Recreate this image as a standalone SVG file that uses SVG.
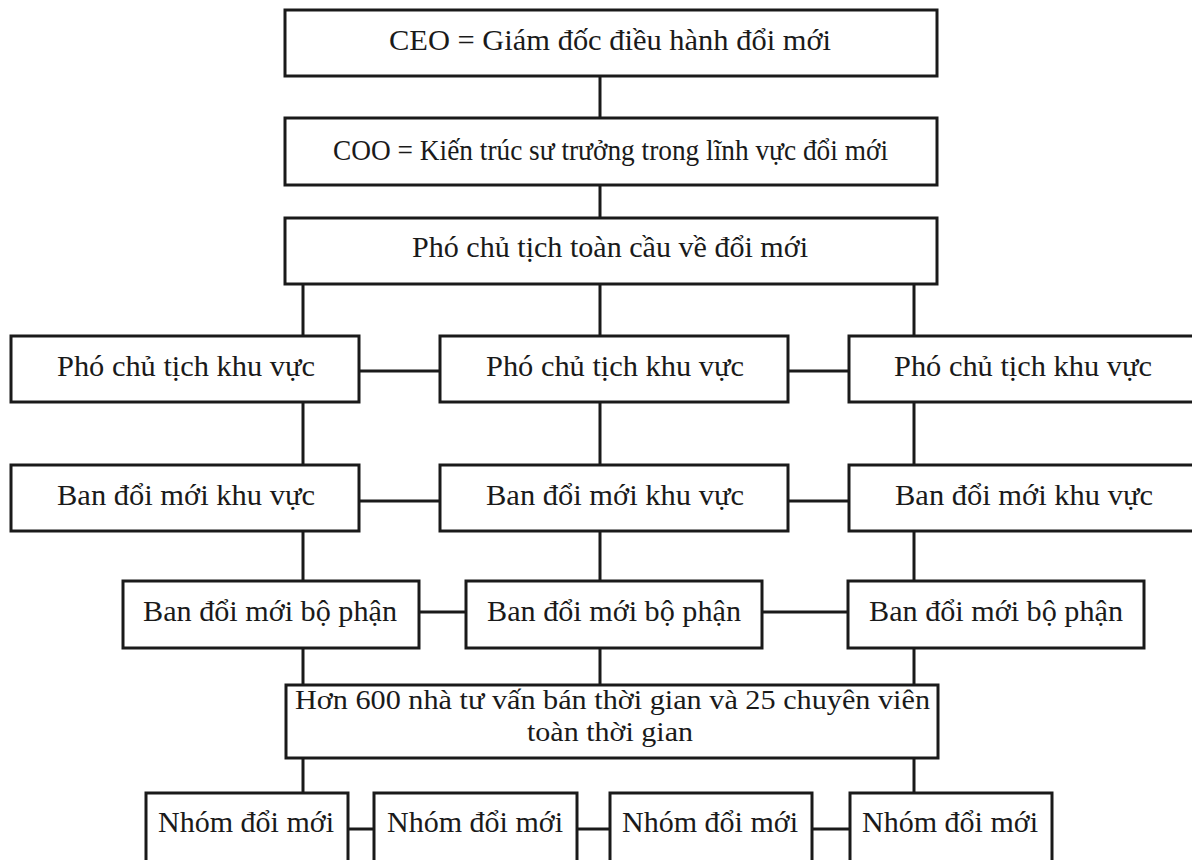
<svg xmlns="http://www.w3.org/2000/svg" width="1192" height="860" viewBox="0 0 1192 860">
<style>
.box{fill:#fff;stroke:#1a1a1a;stroke-width:3}
.ln{stroke:#1a1a1a;stroke-width:3;fill:none}
text{font-family:"Liberation Serif","Times New Roman",serif;font-size:30px;fill:#1a1a1a;text-anchor:middle}
.two{font-size:28px}
</style>
<rect width="1192" height="860" fill="#fff"/>
<g id="connectors">
<path class="ln" d="M600 76V118M600 185V218M303 284V336M600 284V336M914 284V336"/>
<path class="ln" d="M359 371H440M788 371H849"/>
<path class="ln" d="M303 402V465M600 402V465M914 402V465"/>
<path class="ln" d="M359 501H440M788 501H849"/>
<path class="ln" d="M303 531V581M600 531V581M914 531V581"/>
<path class="ln" d="M419 612H466M762 612H848"/>
<path class="ln" d="M303 648V685M600 648V685M914 648V685"/>
<path class="ln" d="M303 758V793M914 758V793"/>
<path class="ln" d="M348 829H374M577 829H610M812 829H850"/>
</g>
<g id="ceo"><rect class="box" x="285" y="10" width="652" height="66"/><text x="610" y="50" textLength="442" lengthAdjust="spacingAndGlyphs">CEO = Giám đốc điều hành đổi mới</text></g>
<g id="coo"><rect class="box" x="285" y="118" width="652" height="67"/><text x="610.5" y="160" textLength="555" lengthAdjust="spacingAndGlyphs">COO = Kiến trúc sư trưởng trong lĩnh vực đổi mới</text></g>
<g id="vp-global"><rect class="box" x="285" y="218" width="652" height="66"/><text x="610" y="257" textLength="396" lengthAdjust="spacingAndGlyphs">Phó chủ tịch toàn cầu về đổi mới</text></g>
<g id="vp-region-1"><rect class="box" x="11" y="336" width="348" height="66"/><text x="186" y="376" textLength="258" lengthAdjust="spacingAndGlyphs">Phó chủ tịch khu vực</text></g>
<g id="vp-region-2"><rect class="box" x="440" y="336" width="348" height="66"/><text x="615" y="376" textLength="258" lengthAdjust="spacingAndGlyphs">Phó chủ tịch khu vực</text></g>
<g id="vp-region-3"><rect class="box" x="849" y="336" width="348" height="66"/><text x="1023" y="376" textLength="258" lengthAdjust="spacingAndGlyphs">Phó chủ tịch khu vực</text></g>
<g id="board-region-1"><rect class="box" x="11" y="465" width="348" height="66"/><text x="186" y="505" textLength="258" lengthAdjust="spacingAndGlyphs">Ban đổi mới khu vực</text></g>
<g id="board-region-2"><rect class="box" x="440" y="465" width="348" height="66"/><text x="615" y="505" textLength="258" lengthAdjust="spacingAndGlyphs">Ban đổi mới khu vực</text></g>
<g id="board-region-3"><rect class="box" x="849" y="465" width="348" height="66"/><text x="1024" y="505" textLength="258" lengthAdjust="spacingAndGlyphs">Ban đổi mới khu vực</text></g>
<g id="board-div-1"><rect class="box" x="123" y="581" width="296" height="67"/><text x="270" y="621" textLength="254" lengthAdjust="spacingAndGlyphs">Ban đổi mới bộ phận</text></g>
<g id="board-div-2"><rect class="box" x="466" y="581" width="296" height="67"/><text x="614" y="621" textLength="254" lengthAdjust="spacingAndGlyphs">Ban đổi mới bộ phận</text></g>
<g id="board-div-3"><rect class="box" x="848" y="581" width="296" height="67"/><text x="996" y="621" textLength="254" lengthAdjust="spacingAndGlyphs">Ban đổi mới bộ phận</text></g>
<g id="consultants"><rect class="box" x="286" y="685" width="652" height="73"/><text class="two" x="612.5" y="709" textLength="635" lengthAdjust="spacingAndGlyphs">Hơn 600 nhà tư vấn bán thời gian và 25 chuyên viên</text><text class="two" x="610" y="741" textLength="166" lengthAdjust="spacingAndGlyphs">toàn thời gian</text></g>
<g id="team-1"><rect class="box" x="146" y="793" width="202" height="70"/><text x="246" y="832" textLength="176" lengthAdjust="spacingAndGlyphs">Nhóm đổi mới</text></g>
<g id="team-2"><rect class="box" x="374" y="793" width="203" height="70"/><text x="475" y="832" textLength="176" lengthAdjust="spacingAndGlyphs">Nhóm đổi mới</text></g>
<g id="team-3"><rect class="box" x="610" y="793" width="202" height="70"/><text x="710" y="832" textLength="176" lengthAdjust="spacingAndGlyphs">Nhóm đổi mới</text></g>
<g id="team-4"><rect class="box" x="850" y="793" width="202" height="70"/><text x="950" y="832" textLength="176" lengthAdjust="spacingAndGlyphs">Nhóm đổi mới</text></g>
</svg>
